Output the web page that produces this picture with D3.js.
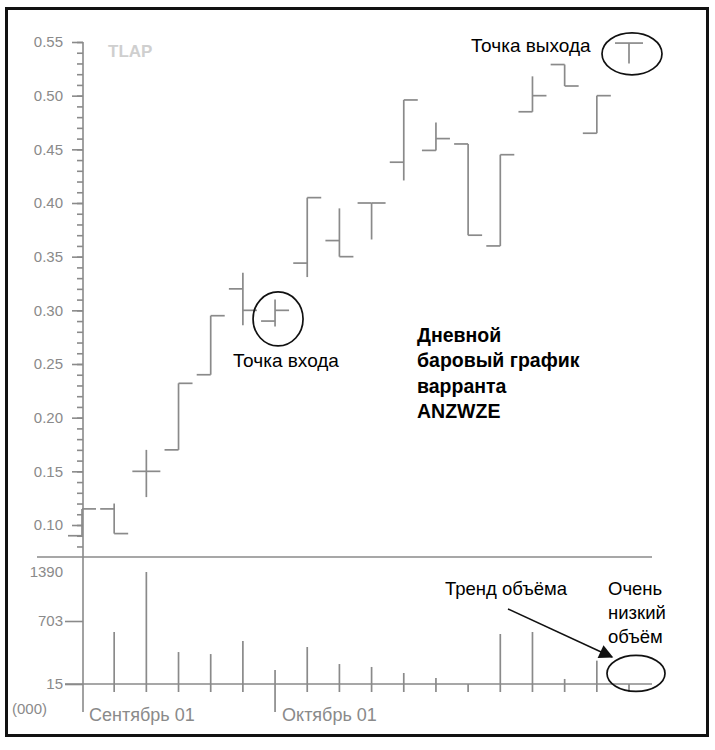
<!DOCTYPE html>
<html>
<head>
<meta charset="utf-8">
<script src="https://cdn.jsdelivr.net/npm/d3@7"></script>
<style>
  body { margin: 0; background: #fff; }
  text { font-family: "Liberation Sans", Arial, sans-serif; }
</style>
</head>
<body>
<div id="chart"></div>
<script>
// daily bars, index 0 = first trading day shown
var dayIdx  = [0, 1, 2, 3, 4, 5, 6, 7, 8, 9, 10, 11, 12, 13, 14, 15, 16, 17];
var opens   = [0.09, 0.115, 0.15, 0.17, 0.24, 0.32, 0.29, 0.344, 0.365, 0.40, 0.438, 0.449, 0.455, 0.36, 0.485, 0.529, 0.465, 0.549];
var highs   = [0.115, 0.12, 0.17, 0.232, 0.295, 0.335, 0.31, 0.405, 0.395, 0.40, 0.496, 0.475, 0.455, 0.445, 0.518, 0.529, 0.50, 0.549];
var lows    = [0.09, 0.092, 0.126, 0.17, 0.24, 0.286, 0.285, 0.331, 0.35, 0.366, 0.421, 0.449, 0.37, 0.36, 0.485, 0.509, 0.465, 0.53];
var closes  = [0.115, 0.092, 0.15, 0.232, 0.295, 0.30, 0.30, 0.405, 0.35, 0.40, 0.496, 0.46, 0.37, 0.445, 0.50, 0.509, 0.50, 0.549];
// volume in thousands (first day hidden behind the axis)
var volumes = [null, 583, 1390, 364, 342, 484, 168, 419, 233, 201, 135, 80, 15, 561, 583, 70, 270, 15];

var priceTicks  = [0.10, 0.15, 0.20, 0.25, 0.30, 0.35, 0.40, 0.45, 0.50, 0.55];
var minorTicks  = d3.range(8, 56).map(function(d) { return d / 100; });
var volumeTicks = [15, 703, 1390];
var monthLabels = ["Сентябрь 01", "Октябрь 01"];
var monthAt     = [0, 6];

var width = 715, height = 750;
var grey = "#8a8a8a";

var svg = d3.select("#chart").append("svg")
    .attr("width", width)
    .attr("height", height);

// scales
var x  = d3.scaleLinear().domain([0, 17]).range([82, 629]);
var y  = d3.scaleLinear().domain([0.10, 0.55]).range([525, 42]);
var vy = d3.scaleLinear().domain(volumeTicks).range([684, 621, 572]);

var axisX = 83, sepY = 557, baseY = 684, monthY = 712;

// frame
svg.append("rect")
    .attr("x", 6.5).attr("y", 8.5)
    .attr("width", 701).attr("height", 727)
    .attr("fill", "none")
    .attr("stroke", "#111")
    .attr("stroke-width", 3);

// price axis: minor ticks then labelled majors
svg.append("g")
    .attr("transform", "translate(" + axisX + ",0)")
    .call(d3.axisLeft(y).tickValues(minorTicks).tickSize(6).tickFormat(""))
    .call(function(g) { g.select(".domain").remove(); });

svg.append("g")
    .attr("transform", "translate(" + axisX + ",0)")
    .call(d3.axisLeft(y).tickValues(priceTicks).tickSize(11).tickPadding(9)
      .tickFormat(d3.format(".2f")))
    .call(function(g) { g.select(".domain").remove(); });

// volume axis
svg.append("g")
    .attr("transform", "translate(" + axisX + ",0)")
    .call(d3.axisLeft(vy).tickValues(volumeTicks).tickSize(18).tickPadding(2)
      .tickFormat(d3.format("d")))
    .call(function(g) {
      g.select(".domain").remove();
      g.selectAll(".tick").filter(function(d) { return d === 1390; })
        .select("line").remove();
    });

svg.selectAll(".tick line").attr("stroke", grey).attr("stroke-width", 1.6);
svg.selectAll(".tick text")
    .attr("fill", grey)
    .style("font-size", "15px")
    .style("font-family", "'Liberation Sans', Arial, sans-serif");

// vertical axis line, panel separator and volume baseline
svg.append("line")
    .attr("x1", axisX).attr("x2", axisX)
    .attr("y1", y(0.55)).attr("y2", monthY)
    .attr("stroke", grey).attr("stroke-width", 1.6);

svg.append("line")
    .attr("x1", 37).attr("x2", 652)
    .attr("y1", sepY).attr("y2", sepY)
    .attr("stroke", grey).attr("stroke-width", 1.6);

svg.append("line")
    .attr("x1", 65).attr("x2", 652)
    .attr("y1", baseY).attr("y2", baseY)
    .attr("stroke", grey).attr("stroke-width", 1.6);

svg.append("text")
    .attr("x", 12).attr("y", 714)
    .attr("fill", grey)
    .style("font-size", "15px")
    .text("(000)");

// month labels
svg.selectAll(".month")
    .data(monthLabels)
    .enter().append("text")
    .attr("class", "month")
    .attr("x", function(d, i) { return x(monthAt[i]) + 7; })
    .attr("y", 721)
    .attr("fill", grey)
    .style("font-size", "18px")
    .text(function(d) { return d; });

// OHLC bars
var bar = svg.selectAll(".bar")
    .data(dayIdx)
    .enter().append("g")
    .attr("class", "bar")
    .attr("stroke", grey)
    .attr("stroke-width", 1.7);

bar.append("line")
    .attr("x1", function(d) { return x(d); })
    .attr("x2", function(d) { return x(d); })
    .attr("y1", function(d) { return y(highs[d]); })
    .attr("y2", function(d) { return y(lows[d]); });

bar.append("line")
    .attr("x1", function(d) { return x(d) - 14; })
    .attr("x2", function(d) { return x(d); })
    .attr("y1", function(d) { return y(opens[d]); })
    .attr("y2", function(d) { return y(opens[d]); });

bar.append("line")
    .attr("x1", function(d) { return x(d); })
    .attr("x2", function(d) { return x(d) + 14; })
    .attr("y1", function(d) { return y(closes[d]); })
    .attr("y2", function(d) { return y(closes[d]); });

// volume lines
svg.selectAll(".vol")
    .data(dayIdx.filter(function(d) { return volumes[d] != null; }))
    .enter().append("line")
    .attr("class", "vol")
    .attr("x1", function(d) { return x(d); })
    .attr("x2", function(d) { return x(d); })
    .attr("y1", function(d) { return vy(volumes[d]); })
    .attr("y2", function(d) { return monthAt.indexOf(d) >= 0 ? monthY : baseY + 8; })
    .attr("stroke", grey)
    .attr("stroke-width", 1.7);

// ticker
svg.append("text")
    .attr("x", 108).attr("y", 57)
    .attr("fill", "#cfcfcf")
    .style("font-size", "17px")
    .style("font-weight", "bold")
    .text("TLAP");

// annotations
function ellipse(cx, cy, rx, ry) {
  svg.append("ellipse")
      .attr("cx", cx).attr("cy", cy)
      .attr("rx", rx).attr("ry", ry)
      .attr("fill", "none")
      .attr("stroke", "#111")
      .attr("stroke-width", 1.7);
}

ellipse(x(6) + 3, y(0.292), 25, 27);
ellipse(x(17) + 3, y(0.539), 30, 21);
ellipse(x(17) + 7, vy(130), 29, 18);

function label(tx, ty, lines, size, bold) {
  svg.append("text")
      .attr("x", tx).attr("y", ty)
      .attr("fill", "#000")
      .style("font-size", size + "px")
      .style("font-weight", bold ? "bold" : "normal")
      .selectAll("tspan")
      .data(lines)
      .enter().append("tspan")
      .attr("x", tx)
      .attr("dy", function(d, i) { return i === 0 ? 0 : "1.3em"; })
      .text(function(d) { return d; });
}

label(471, 52, ["Точка выхода"], 19, false);
label(233, 367, ["Точка входа"], 19, false);
label(417, 342, ["Дневной", "баровый график", "варранта", "ANZWZE"], 19.5, true);
label(445, 595, ["Тренд объёма"], 18.5, false);
label(608, 595, ["Очень", "низкий", "объём"], 18.5, false);

// arrow to the low volume
svg.append("defs").append("marker")
    .attr("id", "head")
    .attr("viewBox", "0 0 10 10")
    .attr("refX", 9).attr("refY", 5)
    .attr("markerWidth", 17).attr("markerHeight", 14)
    .attr("orient", "auto")
    .attr("markerUnits", "userSpaceOnUse")
  .append("path")
    .attr("d", "M0,0L10,5L0,10z")
    .attr("fill", "#111");

svg.append("line")
    .attr("x1", 508).attr("y1", 609)
    .attr("x2", x(17) - 17).attr("y2", vy(310))
    .attr("stroke", "#111")
    .attr("stroke-width", 1.5)
    .attr("marker-end", "url(#head)");
</script>
</body>
</html>
